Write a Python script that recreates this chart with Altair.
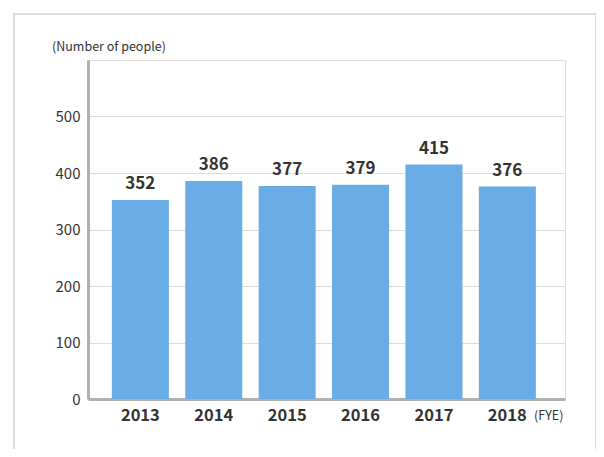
import altair as alt
import pandas as pd

years = ["2013", "2014", "2015", "2016", "2017", "2018"]
people = [352, 386, 377, 379, 415, 376]
y_ticks = [0, 100, 200, 300, 400, 500]

df = pd.DataFrame({"year": years, "people": people})
FONT = "Noto Sans CJK JP"

x_enc = alt.X("year:N", sort=years, title=None,
              scale=alt.Scale(paddingInner=0.223, paddingOuter=0.361, align=0.45),
              axis=alt.Axis(labelAngle=0, labelFontSize=16.5, labelFontWeight="bold",
                            labelColor="#333333", labelFont=FONT, ticks=False,
                            labelPadding=8, domainColor="#b0b0b0", domainWidth=3))
y_enc = alt.Y("people:Q", title=None,
              scale=alt.Scale(domain=[0, 600], nice=False),
              axis=alt.Axis(values=y_ticks, labelFontSize=15, labelColor="#333333",
                            labelFont=FONT, ticks=False, labelPadding=8,
                            domainColor="#b0b0b0", domainWidth=3,
                            gridColor="#dddddd", gridWidth=1))

bars = alt.Chart(df).mark_bar(color="#6aace6").encode(x=x_enc, y=y_enc)
labels = alt.Chart(df).mark_text(baseline="bottom", dy=-7, fontSize=17,
                                 fontWeight="bold", color="#333333", font=FONT).encode(
    x=alt.X("year:N", sort=years), y="people:Q", text="people:Q")

frame = alt.Chart(pd.DataFrame({"a": [0]})).mark_rect(
    fill=None, stroke="#dddddd", strokeWidth=2).encode(
    x=alt.value(-74), x2=alt.value(508), y=alt.value(-46), y2=alt.value(420))

unit = alt.Chart(pd.DataFrame({"t": ["(Number of people)"]})).mark_text(
    align="left", baseline="middle", fontSize=12.5, color="#333333", font=FONT).encode(
    x=alt.value(-36), y=alt.value(-13), text="t:N")
fye = alt.Chart(pd.DataFrame({"t": ["(FYE)"]})).mark_text(
    align="left", baseline="middle", fontSize=12.5, color="#333333", font=FONT).encode(
    x=alt.value(446), y=alt.value(17 + 339), text="t:N")

chart = alt.layer(frame, bars, labels, unit, fye).properties(
    width=477, height=339,
    autosize=alt.AutoSizeParams(type="none"),
    padding={"left": 80, "top": 52, "right": 31, "bottom": 50},
).configure_view(stroke=None).configure(background="white")

chart.save("out.html", embed_options={"renderer": "svg", "actions": False})
